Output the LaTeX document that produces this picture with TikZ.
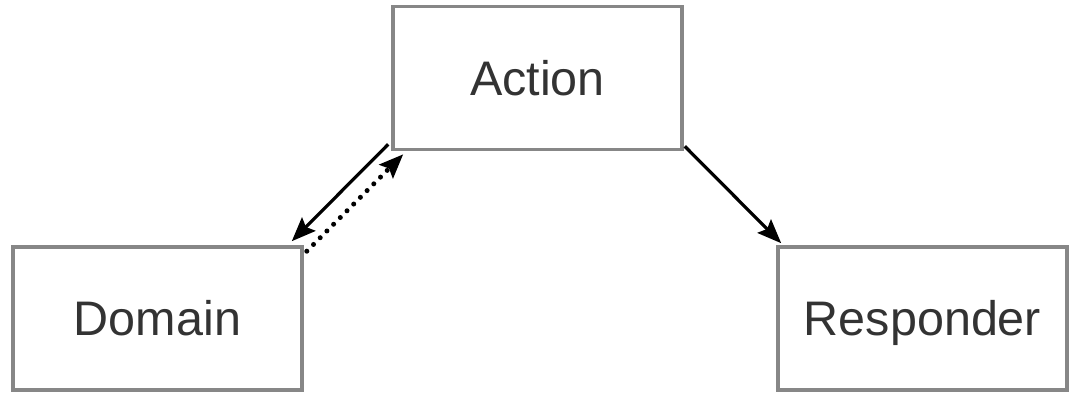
\documentclass[tikz,border=0pt]{standalone}
\usepackage{fontspec}
\setmainfont{Liberation Sans}
\usetikzlibrary{arrows.meta}
\begin{document}
\begin{tikzpicture}[x=1pt,y=1pt,
  boxnode/.style={draw=black!47, line width=3.6pt, fill=white, minimum width=289pt, minimum height=143pt, inner sep=0pt, font=\fontsize{48.5}{52}\selectfont, text=black!80, text height=35pt, text depth=0pt},
  conn/.style={line width=3.2pt, -{Stealth[length=24pt,width=19pt,inset=4pt]}},
  dotconn/.style={line width=5pt, line cap=round, dash pattern=on 0pt off 9.5pt, -{Stealth[length=24pt,width=19pt,inset=4pt,line cap=butt]}}]
\useasboundingbox (0,0) rectangle (1074,393);
\node[boxnode] (act) at (537.5,315) {Action};
\node[boxnode] (dom) at (157.5,74.5) {Domain};
\node[boxnode] (res) at (922.5,74.5) {Responder};
\draw[conn] ([xshift=-3pt,yshift=7pt]act.south west) -- ([xshift=-12pt,yshift=4pt]dom.north east);
\draw[dotconn] ([xshift=3pt,yshift=-6pt]dom.north east) -- ([xshift=12pt,yshift=-3pt]act.south west);
\draw[conn] ([xshift=1pt,yshift=5pt]act.south east) -- ([xshift=5pt,yshift=2pt]res.north west);
\end{tikzpicture}
\end{document}
